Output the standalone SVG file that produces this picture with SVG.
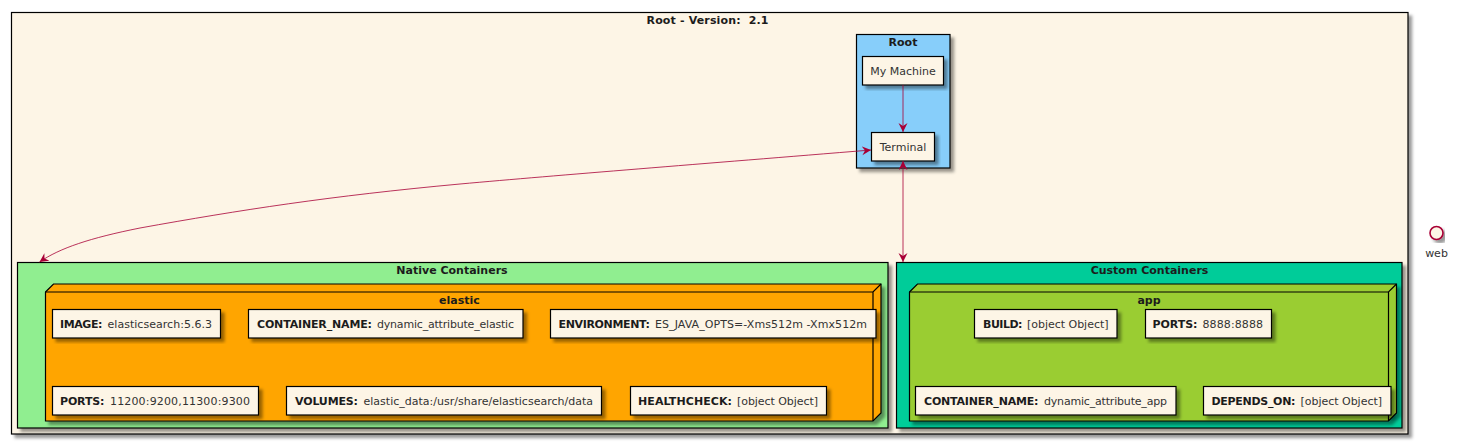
<svg xmlns="http://www.w3.org/2000/svg" width="1457" height="442" viewBox="0 0 1457 442">
<style>
text{font-family:"DejaVu Sans",sans-serif;font-size:11px;fill:#1c1c1c;text-anchor:middle}
.b{font-weight:700}
.v{font-weight:400;fill:#333}
.s{stroke:#000;stroke-width:1.2}
.n{fill:#FDF5E6;stroke:#000;stroke-width:1.2;filter:url(#sh)}
.l{text-anchor:start}
.c{fill:none;stroke:#A80036;stroke-width:.8}
.h{fill:none;stroke:#000;stroke-width:1.2}
</style>
<defs>
<filter id="sh" x="-5%" y="-5%" width="115%" height="125%"><feDropShadow dx="3.5" dy="3.5" stdDeviation="1.6" flood-color="#000" flood-opacity=".4"/></filter>
<marker id="a" markerUnits="userSpaceOnUse" markerWidth="12" markerHeight="10" refX="9" refY="4.500" orient="auto-start-reverse"><path d="M0 0L9 4.500L0 9L3 4.500Z" fill="#A80036"/></marker>
</defs>
<rect width="1457" height="442" fill="#fff"/>
<g id="root-frame">
<rect x="11.500" y="12.500" width="1396.500" height="421.500" class="n"/>
<text x="707.500" y="24" class="b" xml:space="preserve" textLength="122">Root - Version:  2.1</text>
</g>
<g id="root">
<rect x="856.500" y="34.500" width="93.500" height="133.500" class="s" fill="#87CEFA" filter="url(#sh)"/>
<text x="903" y="46" class="b">Root</text>
</g>
<g id="my-machine"><rect x="862.500" y="56.500" width="81" height="28.500" class="n"/><text x="903" y="75" class="v">My Machine</text></g>
<g id="terminal"><rect x="871.500" y="132.500" width="63" height="28.500" class="n"/><text x="903" y="151" class="v">Terminal</text></g>
<g id="native">
<rect x="17.500" y="262.500" width="870.500" height="165.500" class="s" fill="#90EE90" filter="url(#sh)"/>
<text x="452" y="274" class="b">Native Containers</text>
</g>
<g id="elastic">
<path d="M45.500 292L53.500 284H881V413L873 421H45.500Z" class="s" fill="#FFA500" filter="url(#sh)"/>
<path d="M45.500 292H873L881 284M873 292V421" class="h"/>
<text x="459.500" y="304" class="b">elastic</text>
</g>
<g id="elastic-image"><rect x="52.500" y="309.500" width="168" height="28.500" class="n"/><text y="327.500" class="l"><tspan x="60" class="b" textLength="42.500">IMAGE:</tspan><tspan x="107.500" class="v" textLength="104.500">elasticsearch:5.6.3</tspan></text></g>
<g id="elastic-container-name"><rect x="248.500" y="309.500" width="274.500" height="28.500" class="n"/><text y="327.500" class="l"><tspan x="257" class="b" textLength="115">CONTAINER_NAME:</tspan><tspan x="377" class="v" textLength="137">dynamic_attribute_elastic</tspan></text></g>
<g id="elastic-environment"><rect x="550.500" y="309.500" width="325.500" height="28.500" class="n"/><text y="327.500" class="l"><tspan x="558.500" class="b" textLength="91.500">ENVIRONMENT:</tspan><tspan x="655" class="v" textLength="212">ES_JAVA_OPTS=-Xms512m -Xmx512m</tspan></text></g>
<g id="elastic-ports"><rect x="52.500" y="386.500" width="206" height="28.500" class="n"/><text y="404.500" class="l"><tspan x="60" class="b" textLength="44.500">PORTS:</tspan><tspan x="110" class="v" textLength="140">11200:9200,11300:9300</tspan></text></g>
<g id="elastic-volumes"><rect x="286.500" y="386.500" width="315" height="28.500" class="n"/><text y="404.500" class="l"><tspan x="295" class="b" textLength="63">VOLUMES:</tspan><tspan x="363.500" class="v" textLength="229.500">elastic_data:/usr/share/elasticsearch/data</tspan></text></g>
<g id="elastic-healthcheck"><rect x="630.500" y="386.500" width="196" height="28.500" class="n"/><text y="404.500" class="l"><tspan x="638" class="b" textLength="94">HEALTHCHECK:</tspan><tspan x="737" class="v" textLength="81">[object Object]</tspan></text></g>
<g id="custom">
<rect x="896.500" y="262.500" width="505.500" height="165.500" class="s" fill="#00CC99" filter="url(#sh)"/>
<text x="1149.500" y="274" class="b">Custom Containers</text>
</g>
<g id="app">
<path d="M909.500 292L917.500 284H1396.500V413L1388.500 421H909.500Z" class="s" fill="#9ACD32" filter="url(#sh)"/>
<path d="M909.500 292H1388.500L1396.500 284M1388.500 292V421" class="h"/>
<text x="1149" y="304" class="b">app</text>
</g>
<g id="app-build"><rect x="974.500" y="309.500" width="142.500" height="28.500" class="n"/><text y="327.500" class="l"><tspan x="983" class="b" textLength="39.500">BUILD:</tspan><tspan x="1027" class="v" textLength="81.500">[object Object]</tspan></text></g>
<g id="app-ports"><rect x="1145.500" y="309.500" width="126" height="28.500" class="n"/><text y="327.500" class="l"><tspan x="1152.500" class="b" textLength="45">PORTS:</tspan><tspan x="1202.500" class="v" textLength="60.500">8888:8888</tspan></text></g>
<g id="app-container-name"><rect x="915.500" y="386.500" width="260.500" height="28.500" class="n"/><text y="404.500" class="l"><tspan x="924" class="b" textLength="114.500">CONTAINER_NAME:</tspan><tspan x="1044" class="v" textLength="123">dynamic_attribute_app</tspan></text></g>
<g id="app-depends-on"><rect x="1203.500" y="386.500" width="187.500" height="28.500" class="n"/><text y="404.500" class="l"><tspan x="1211.500" class="b" textLength="84">DEPENDS_ON:</tspan><tspan x="1300.500" class="v" textLength="81.500">[object Object]</tspan></text></g>
<g id="web"><circle cx="1436.500" cy="233" r="6.500" fill="#FDF5E6" stroke="#A80036" stroke-width="1.600" filter="url(#sh)"/><text x="1436.500" y="256.500" class="v">web</text></g>
<g id="connectors">
<path class="c" d="M903 85V132" marker-end="url(#a)"/>
<path class="c" d="M871 150C700 164 560 175 460 184C330 196 240 210 140 228C90 238 60 248 39.500 262" marker-start="url(#a)" marker-end="url(#a)"/>
<path class="c" d="M903 161V262" marker-start="url(#a)" marker-end="url(#a)"/>
</g>
</svg>
